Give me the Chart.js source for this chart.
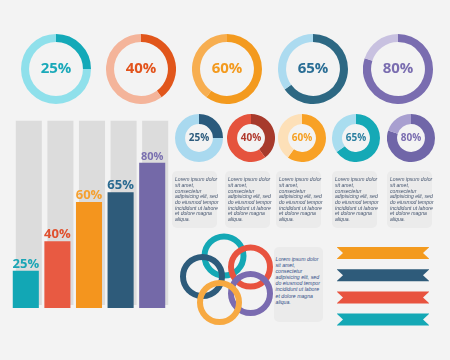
<!DOCTYPE html>
<html><head><meta charset="utf-8">
<script src="https://cdn.jsdelivr.net/npm/chart.js@4"></script>
<style>
html,body{margin:0;padding:0;background:#f3f3f3;}
#root{position:relative;width:450px;height:360px;overflow:hidden;background:#f3f3f3;}
canvas{position:absolute;}
.box{position:absolute;background:#ebebeb;border-radius:5px;font-family:"Liberation Sans",Arial,sans-serif;font-style:italic;box-sizing:border-box;white-space:nowrap;}
</style></head><body><div id="root"></div>
<script>
// ---------- data ----------
const topPercents   = [25, 40, 60, 65, 80];
const topLabels     = ['25%', '40%', '60%', '65%', '80%'];
const barCategories = ['A', 'B', 'C', 'D', 'E'];
const barValues     = [25, 40, 60, 65, 80];
const barTrack      = [100, 100, 100, 100, 100];
const barLabels     = ['25%', '40%', '60%', '65%', '80%'];
const smallPercents = [25, 40, 60, 65, 80];
const smallLabels   = ['25%', '40%', '60%', '65%', '80%'];
const ringX         = [49, 75.5, 27.5, 75.5, 44.5];
const ringY         = [28, 39, 48.5, 65.5, 74.5];
const ribbonNames   = ['r1', 'r2', 'r3', 'r4'];
const ribbonLengths = [100, 100, 100, 100];
const loremLines    = ['Lorem ipsum dolor', 'sit amet,', 'consectetur', 'adipisicing elit, sed',
                       'do eiusmod tempor', 'incididunt ut labore', 'et dolore magna', 'aliqua.'];

// ---------- styles ----------
const BG = '#f3f3f3';
const topDark  = ['#14a9b8', '#e1561b', '#f39a1e', '#2d6883', '#7a6db0'];
const topLight = ['#8fe0eb', '#f4b49a', '#f7ae50', '#acdbf0', '#c8c1e0'];
const topText  = ['#1aa9b9', '#e2531c', '#f39a1e', '#2a6e95', '#7a6db0'];
const barColors = ['#12a7b5', '#e85a42', '#f4951e', '#2e5b7a', '#7469a8'];
const barTextColors = ['#1aa5b5', '#e0502e', '#f5a030', '#2a6a90', '#7a70b0'];
const barFont = [13, 13, 13, 13, 11];
const smallDark  = ['#2a5a7c', '#a73a2c', '#f8a125', '#15a9b6', '#7066a8'];
const smallLight = ['#a9d9ef', '#e5533d', '#fde0b8', '#a9ddef', '#a89fd0'];
const smallText  = ['#2d5b7d', '#b03a2e', '#f5a024', '#2b7fa0', '#7a6db0'];
const ringColors = ['#14a8b5', '#e8533f', '#2d5b7b', '#7a6bb0', '#f7a941'];
const ribbonColors = ['#f39a1e', '#2e5b7a', '#e8533f', '#14a8b5'];

Chart.defaults.animation = false;
Chart.defaults.font.family = '"Open Sans", "Liberation Sans", sans-serif';
const root = document.getElementById('root');
function mk(left, top, w, h) {
  const c = document.createElement('canvas');
  c.width = w; c.height = h;
  c.style.left = left + 'px'; c.style.top = top + 'px';
  c.style.width = w + 'px'; c.style.height = h + 'px';
  root.appendChild(c);
  return c;
}
const base = {
  responsive: false, devicePixelRatio: 1, animation: false, events: [],
  plugins: { legend: { display: false }, tooltip: { enabled: false } }
};
function centerText(txt, color, size, dy) {
  return { id: 'ctr', afterDraw(ch) {
    const { ctx, chartArea: a } = ch;
    ctx.save();
    ctx.font = 'bold ' + size + 'px "Open Sans", sans-serif';
    ctx.fillStyle = color; ctx.textAlign = 'center'; ctx.textBaseline = 'middle';
    ctx.fillText(txt, (a.left + a.right) / 2, (a.top + a.bottom) / 2 + dy);
    ctx.restore();
  } };
}

// ---------- top donuts ----------
const topLeft = [21, 106, 192, 278, 363];
topPercents.forEach((v, i) => {
  new Chart(mk(topLeft[i], 34, 70, 70), {
    type: 'doughnut',
    data: { labels: ['v', 'rest'], datasets: [{ data: [v, 100 - v], backgroundColor: [topDark[i], topLight[i]], borderWidth: 0 }] },
    options: { ...base, cutout: '77%' },
    plugins: [centerText(topLabels[i], topText[i], 15, 0)]
  });
});

// ---------- small donuts ----------
const smallLeft = [175, 227, 278, 332, 387];
smallPercents.forEach((v, i) => {
  new Chart(mk(smallLeft[i], 114, 48, 48), {
    type: 'doughnut',
    data: { labels: ['v', 'rest'], datasets: [{ data: [v, 100 - v], backgroundColor: [smallDark[i], smallLight[i]], borderWidth: 0 }] },
    options: { ...base, cutout: '58%' },
    plugins: [centerText(smallLabels[i], smallText[i], 10, 0)]
  });
});

// ---------- bars ----------
new Chart(mk(0, 100, 178, 215), {
  type: 'bar',
  data: { labels: barCategories, datasets: [
    { data: barValues, backgroundColor: barColors, order: 0, grouped: false, barPercentage: 0.825, categoryPercentage: 1 },
    { data: barTrack, backgroundColor: '#dcdcdc', order: 1, grouped: false, barPercentage: 0.825, categoryPercentage: 1 }
  ] },
  options: { ...base,
    layout: { padding: { left: 10, right: 10, top: 23.4, bottom: 7 } },
    scales: { x: { display: false }, y: { display: false, min: 6, max: 100 } }
  },
  plugins: [{ id: 'shift',
    beforeDatasetDraw(ch, args) { if (args.index === 1) { ch.ctx.save(); ch.ctx.translate(3, -3); } },
    afterDatasetDraw(ch, args) { if (args.index === 1) ch.ctx.restore(); },
    afterDatasetsDraw(ch) {
      const ctx = ch.ctx, meta = ch.getDatasetMeta(0);
      meta.data.forEach((el, i) => {
        ctx.save();
        ctx.font = 'bold ' + barFont[i] + 'px "Open Sans", sans-serif';
        ctx.fillStyle = barTextColors[i]; ctx.textAlign = 'center'; ctx.textBaseline = 'alphabetic';
        ctx.fillText(barLabels[i], el.x, el.y - 3);
        ctx.restore();
      });
    }
  }]
});

// ---------- text boxes ----------
function box(left, top, w, h, padT, padL, fs, lh, color) {
  const d = document.createElement('div');
  d.className = 'box';
  Object.assign(d.style, { left: left + 'px', top: top + 'px', width: w + 'px', height: h + 'px',
    paddingTop: padT + 'px', paddingLeft: padL + 'px', fontSize: fs + 'px', lineHeight: lh + 'px', color });
  d.innerHTML = loremLines.join('<br>');
  root.appendChild(d);
}
const boxLeft = [172, 225, 276, 332, 387];
boxLeft.forEach(l => box(l, 171, 45, 57, 6.2, 3, 5.1, 5.7, '#44546e'));
box(274, 247, 49, 75, 9, 1.5, 5.2, 6.1, '#34508a');

// ---------- rings ----------
new Chart(mk(175, 228, 100, 100), {
  type: 'bubble',
  data: { datasets: [{ data: ringX.map((x, i) => ({ x, y: ringY[i], r: 19.5 })),
    backgroundColor: 'rgba(0,0,0,0)', borderColor: ringColors, borderWidth: 6, clip: false }] },
  options: { ...base, layout: { padding: 0, autoPadding: false },
    scales: { x: { display: false, min: 0, max: 100 }, y: { display: false, min: 0, max: 100, reverse: true } } }
});

// ---------- ribbons ----------
new Chart(mk(330, 240, 110, 92), {
  type: 'bar',
  data: { labels: ribbonNames, datasets: [{ data: ribbonLengths, backgroundColor: ribbonColors,
    barPercentage: 0.54, categoryPercentage: 1 }] },
  options: { ...base, indexAxis: 'y',
    layout: { padding: { left: 7, right: 11, top: 1.9, bottom: 1.3 } },
    scales: { x: { display: false, min: 0, max: 100 }, y: { display: false } } },
  plugins: [{ id: 'notch', afterDatasetsDraw(ch) {
    const ctx = ch.ctx;
    ch.getDatasetMeta(0).data.forEach(el => {
      const t = el.y - el.height / 2, b = el.y + el.height / 2, x0 = el.base, x1 = el.x, d = 6;
      ctx.save(); ctx.fillStyle = BG;
      ctx.beginPath(); ctx.moveTo(x0 - 1, t - 0.5); ctx.lineTo(x0 + d, el.y); ctx.lineTo(x0 - 1, b + 0.5); ctx.closePath(); ctx.fill();
      ctx.beginPath(); ctx.moveTo(x1 + 1, t - 0.5); ctx.lineTo(x1 - d, el.y); ctx.lineTo(x1 + 1, b + 0.5); ctx.closePath(); ctx.fill();
      ctx.restore();
    });
  } }]
});
</script></body></html>
